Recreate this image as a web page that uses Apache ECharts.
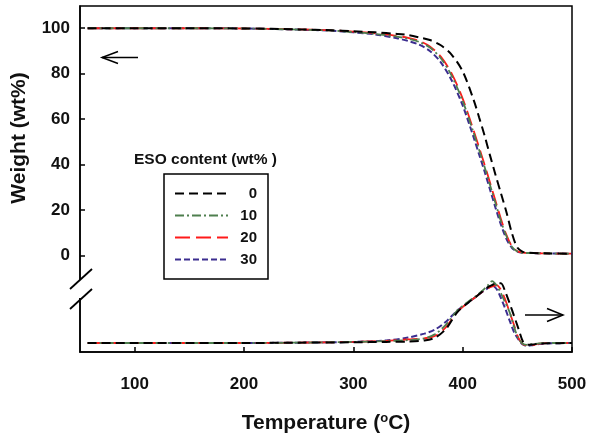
<!DOCTYPE html>
<html>
<head>
<meta charset="utf-8">
<script src="https://cdn.jsdelivr.net/npm/echarts@6/dist/echarts.min.js"></script>
<style>html,body{margin:0;padding:0;background:#fff}#c{width:589px;height:436px}</style>
</head>
<body>
<div id="c"></div>
<script>
// ---- data ----
var seriesNames = ['0', '10', '20', '30'];
var xTicks = [100, 200, 300, 400, 500];
var yTicks = [0, 20, 40, 60, 80, 100];

// TGA (weight %) on common temperature grid
var tgaTemp = [57, 100, 150, 200, 250, 280, 300, 320, 340, 350, 360, 370, 380, 390, 400, 410, 415, 420, 425, 430, 435, 440, 445, 450, 455, 460, 480, 500];
var tga0  = [100, 100, 100, 99.9, 99.5, 99.1, 98.7, 98.2, 97.5, 97.0, 96.0, 94.8, 92.5, 88.3, 81.0, 68.5, 60.8, 52.8, 44.0, 35.5, 27.3, 19.1, 9.8, 3.4, 1.5, 1.1, 0.8, 0.7];
var tga10 = [100, 100, 100, 99.9, 99.4, 99.0, 98.3, 97.5, 96.3, 95.4, 94.0, 91.5, 86.8, 79.0, 68.0, 54.0, 46.5, 39.0, 31.0, 23.0, 15.0, 8.5, 3.8, 1.7, 1.1, 1.0, 0.8, 0.7];
var tga20 = [100, 100, 100, 99.9, 99.5, 99.1, 98.5, 97.8, 96.6, 95.8, 94.5, 92.0, 87.5, 80.0, 69.0, 55.0, 47.5, 40.0, 32.0, 24.0, 16.0, 9.0, 4.0, 1.8, 1.2, 1.0, 0.8, 0.7];
var tga30 = [100, 100, 100, 99.9, 99.4, 98.9, 98.2, 97.3, 95.6, 94.4, 92.8, 90.0, 85.0, 77.0, 66.0, 52.0, 44.5, 37.0, 29.0, 21.0, 13.5, 7.3, 3.3, 1.6, 1.1, 1.0, 0.8, 0.7];

// DTG (derivative, %/°C) on common temperature grid
var dtgTemp = [57, 100, 150, 200, 250, 300, 330, 350, 365, 375, 385, 395, 405, 412, 418, 423, 427, 431, 435, 439, 443, 447, 451, 455, 459, 464, 470, 480, 500];
var dtg0  = [0, 0, 0, 0, 0.01, 0.02, 0.03, 0.04, 0.07, 0.15, 0.40, 0.85, 1.12, 1.28, 1.43, 1.55, 1.61, 1.66, 1.66, 1.42, 1.10, 0.75, 0.40, 0.05, -0.05, -0.04, -0.02, -0.01, 0];
var dtg10 = [0, 0, 0, 0, 0.01, 0.03, 0.05, 0.08, 0.13, 0.25, 0.52, 0.90, 1.15, 1.30, 1.45, 1.60, 1.72, 1.60, 1.38, 1.12, 0.85, 0.45, 0.12, -0.02, -0.05, -0.03, -0.01, 0, 0];
var dtg20 = [0, 0, 0, 0, 0.01, 0.03, 0.06, 0.10, 0.13, 0.20, 0.45, 0.87, 1.12, 1.28, 1.42, 1.52, 1.57, 1.61, 1.48, 1.20, 0.85, 0.50, 0.14, -0.03, -0.07, -0.06, -0.02, 0, 0];
var dtg30 = [0, 0, 0, 0, 0.01, 0.03, 0.07, 0.15, 0.26, 0.38, 0.60, 0.90, 1.12, 1.28, 1.42, 1.52, 1.60, 1.50, 1.25, 0.95, 0.62, 0.30, 0.10, -0.04, -0.08, -0.06, -0.03, -0.01, 0];

// ---- styling ----
var FONT = '"Liberation Sans", Arial, sans-serif';
var colors = ['#000000', '#4e7f4e', '#ff1a1a', '#3b2d8f'];
var dashes = [[9, 5], [9, 3, 2, 3], [15, 6], [6, 3]];
var widths = [2, 1.8, 1.8, 2];

function zip(xs, ys) { return xs.map(function (x, i) { return [x, ys[i]]; }); }
var tgaSets = [tga0, tga10, tga20, tga30];
var dtgSets = [dtg0, dtg10, dtg20, dtg30];

var series = [];
seriesNames.forEach(function (n, i) {
  series.push({
    name: n, type: 'line', xAxisIndex: 0, yAxisIndex: 0,
    data: zip(tgaTemp, tgaSets[i]), showSymbol: false, symbol: 'none',
    smooth: 0.3, color: colors[i],
    lineStyle: { color: colors[i], width: widths[i], type: dashes[i] },
    z: 10 - i
  });
});
seriesNames.forEach(function (n, i) {
  series.push({
    name: n, type: 'line', xAxisIndex: 0, yAxisIndex: 1,
    data: zip(dtgTemp, dtgSets[i]), showSymbol: false, symbol: 'none',
    smooth: 0.3, color: colors[i],
    lineStyle: { color: colors[i], width: widths[i], type: dashes[i] },
    z: 10 - i
  });
});

var chart = echarts.init(document.getElementById('c'), null, { renderer: 'canvas' });
chart.setOption({
  animation: false,
  backgroundColor: '#ffffff',
  textStyle: { fontFamily: FONT },
  title: {
    text: 'ESO content (wt% )', left: 129, top: 147,
    textStyle: { fontSize: 15.5, fontWeight: 'bold', color: '#111', fontFamily: FONT }
  },
  legend: {
    data: seriesNames, orient: 'vertical', left: 164, top: 174,
    backgroundColor: '#fff', borderColor: '#000', borderWidth: 1.5,
    padding: [12, 11, 12, 10], itemWidth: 53, itemHeight: 14, itemGap: 7,
    itemStyle: { opacity: 0 },
    formatter: '{a|{name}}',
    textStyle: {
      color: '#111', fontSize: 15, fontWeight: 'bold', fontFamily: FONT,
      rich: { a: { width: 24, align: 'right', fontSize: 15, fontWeight: 'bold', fontFamily: FONT, color: '#111' } }
    }
  },
  grid: {
    left: 80, top: 6, right: 17, bottom: 84, outerBoundsMode: 'none', containLabel: false,
    show: true, borderColor: '#000', borderWidth: 1.5, backgroundColor: 'transparent'
  },
  xAxis: {
    type: 'value', min: 50, max: 500,
    name: 'Temperature ({sup|o}C)', nameLocation: 'middle', nameGap: 60,
    nameTextStyle: {
      fontSize: 21, fontWeight: 'bold', color: '#111', fontFamily: FONT,
      rich: { sup: { fontSize: 13, fontWeight: 'bold', color: '#111', fontFamily: FONT, verticalAlign: 'top', padding: [0, 0, 9, 0] } }
    },
    axisLine: { show: true, onZero: false, lineStyle: { color: '#000', width: 1.5 } },
    axisTick: { show: true, inside: true, length: 5, customValues: xTicks, lineStyle: { color: '#000', width: 1.5 } },
    axisLabel: { customValues: xTicks, margin: 24, fontSize: 17, fontWeight: 'bold', color: '#111', fontFamily: FONT },
    splitLine: { show: false }
  },
  yAxis: [{
    type: 'value', min: -42.6, max: 109.8,
    name: 'Weight (wt%)', nameLocation: 'middle', nameGap: 50,
    nameTextStyle: { fontSize: 21, fontWeight: 'bold', color: '#111', fontFamily: FONT, padding: [0, 0, 0, 82] },
    axisLine: { show: true, onZero: false, lineStyle: { color: '#000', width: 1.5 } },
    axisTick: { show: true, inside: true, length: 5, customValues: yTicks, lineStyle: { color: '#000', width: 1.5 } },
    axisLabel: { customValues: yTicks, margin: 10, fontSize: 17, fontWeight: 'bold', color: '#111', fontFamily: FONT },
    splitLine: { show: false }
  }, {
    type: 'value', min: -0.25, max: 9.36, show: false,
    splitLine: { show: false }
  }],
  graphic: [
    { type: 'rect', z: 100, shape: { x: 77, y: 280, width: 6, height: 18 }, style: { fill: '#fff' } },
    { type: 'line', z: 101, shape: { x1: 70, y1: 289, x2: 92, y2: 269 }, style: { stroke: '#000', lineWidth: 1.8 } },
    { type: 'line', z: 101, shape: { x1: 70, y1: 309, x2: 92, y2: 289 }, style: { stroke: '#000', lineWidth: 1.8 } },
    { type: 'line', z: 101, shape: { x1: 102, y1: 57.5, x2: 138, y2: 57.5 }, style: { stroke: '#000', lineWidth: 1.5 } },
    { type: 'polyline', z: 101, shape: { points: [[118, 51.5], [102, 57.5], [118, 63.5]] }, style: { stroke: '#000', lineWidth: 1.5, fill: null } },
    { type: 'line', z: 101, shape: { x1: 525, y1: 315, x2: 563, y2: 315 }, style: { stroke: '#000', lineWidth: 1.5 } },
    { type: 'polyline', z: 101, shape: { points: [[547, 308.5], [563, 315], [547, 321.5]] }, style: { stroke: '#000', lineWidth: 1.5, fill: null } }
  ],
  series: series
});
</script>
</body>
</html>
